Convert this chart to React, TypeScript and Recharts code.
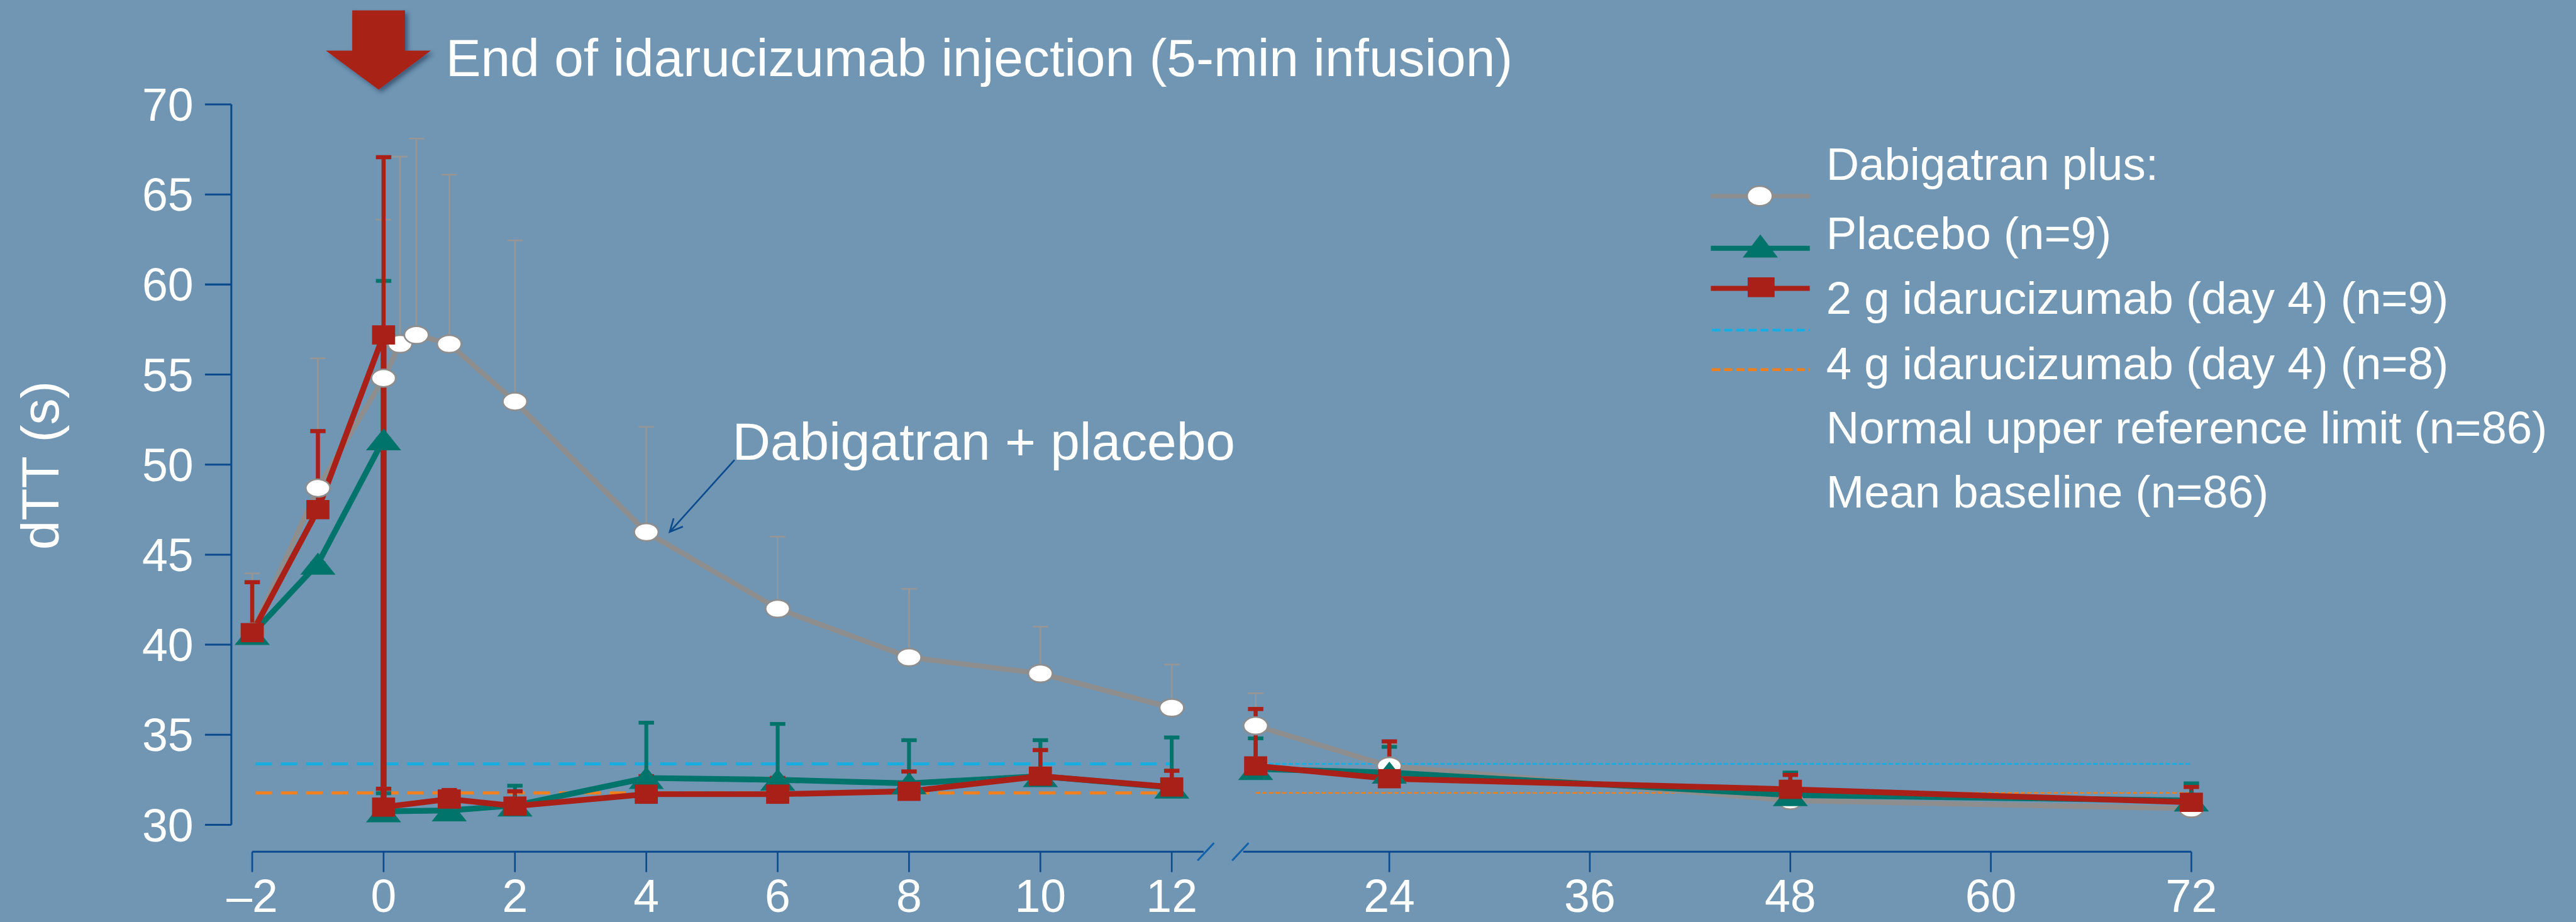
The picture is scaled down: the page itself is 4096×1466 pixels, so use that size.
import React from 'react';
import {
  ComposedChart, Line, XAxis, YAxis, ErrorBar, ReferenceLine, ReferenceDot, Legend,
} from 'recharts';

const W = 4096;
const H = 1466;
const S = W / 4688; // reference pixels -> window pixels
const px = (v: number) => v * S;

const FONT = '"Liberation Sans", Arial, Helvetica, sans-serif';
const BG = '#7096b4';
const AXIS = '#0b4a8c';
const GRAY = '#8e8e8e';
const TEAL = '#00736b';
const RED = '#a92019';
const BLUE_DASH = '#16aee2';
const ORANGE = '#f0801e';

// hours relative to end of the 5-min infusion
const placeboHours = [-2, -1, 0, 0.25, 0.5, 1, 2, 4, 6, 8, 10, 12, 16, 24, 48, 72];
const placeboValues = [40.7, 48.7, 54.8, 56.7, 57.2, 56.7, 53.5, 46.25, 42.0, 39.3, 38.4, 36.5, 35.5, 33.26, 31.35, 30.9];
const placeboUpper = [3.26, 7.2, 8.8, 10.4, 10.9, 9.4, 8.95, 5.85, 4.0, 3.8, 2.6, 2.4, 1.8, 1.2, 0.5, 0.5];

const idaHours = [-2, -1, 0, 0, 1, 2, 4, 6, 8, 10, 12, 16, 24, 48, 72];
const ida2gValues = [40.6, 44.5, 51.4, 30.75, 30.8, 31.07, 32.6, 32.5, 32.3, 32.7, 32.07, 33.1, 32.9, 31.65, 31.35];
const ida2gUpper = [0, 0, 8.8, 1.0, 0.5, 1.1, 3.07, 3.1, 2.4, 2.0, 2.78, 1.7, 1.43, 1.25, 0.95];
const ida4gValues = [40.67, 47.5, 57.2, 30.98, 31.43, 31.04, 31.7, 31.7, 31.86, 32.7, 32.1, 33.27, 32.56, 31.97, 31.25];
const ida4gUpper = [2.8, 4.36, 9.87, 1.02, 0.5, 0.82, 1.0, 0.9, 1.1, 1.45, 0.9, 3.16, 2.07, 0.8, 0.85];

const upperRefLimit = 33.38;
const meanBaseline = 31.77;

const xTickHours = [-2, 0, 2, 4, 6, 8, 10, 12, 24, 36, 48, 60, 72];
const xTickLabels = ['–2', '0', '2', '4', '6', '8', '10', '12', '24', '36', '48', '60', '72'];
const yTicks = [30, 35, 40, 45, 50, 55, 60, 65, 70];

const legendLabels = [
  'Dabigatran plus:',
  'Placebo (n=9)',
  '2 g idarucizumab (day 4) (n=9)',
  '4 g idarucizumab (day 4) (n=8)',
  'Normal upper reference limit (n=86)',
  'Mean baseline (n=86)',
];

/* broken time axis: hours after 12 are compressed 4x */
const BREAK_HOUR = 12;
const POST_BREAK_START = 12.26;
const POST_BREAK_RATIO = 0.2544;
const toAxis = (h: number) =>
  h <= BREAK_HOUR ? h : POST_BREAK_START + (h - BREAK_HOUR) * POST_BREAK_RATIO;

const X_MIN = -2.318;
const X_MAX = toAxis(72);
const Y_MIN = 28.505;
const Y_MAX = 70;
const GAP_LEFT = 12.485;
const GAP_RIGHT = 13.088;

const xTicks = xTickHours.map(toAxis);

const buildSeries = (hours: number[], values: number[], upper: number[]) => {
  const rows: any[] = [];
  hours.forEach((h, i) => {
    const prev = hours[i - 1];
    if (prev !== undefined && prev <= BREAK_HOUR && h > BREAK_HOUR) {
      rows.push({ u: (toAxis(prev) + toAxis(h)) / 2, v: null });
    }
    rows.push({ u: toAxis(h), v: values[i], err: [0, upper[i]] });
  });
  return rows;
};

const flat = (from: number, to: number, v: number) => [
  { u: toAxis(from), v },
  { u: toAxis(to), v },
];

const placeboData = buildSeries(placeboHours, placeboValues, placeboUpper);
const ida2gData = buildSeries(idaHours, ida2gValues, ida2gUpper);
const ida4gData = buildSeries(idaHours, ida4gValues, ida4gUpper);

const GrayDot = (p: any) =>
  p.cy == null ? <g key={`g${p.index}`} /> : (
    <ellipse key={`g${p.index}`} cx={p.cx} cy={p.cy} rx={px(22)} ry={px(16)}
      fill="#fff" stroke={GRAY} strokeWidth={px(3)} />
  );

const TealDot = (p: any) => {
  if (p.cy == null) return <g key={`t${p.index}`} />;
  const w = px(64), h = px(40);
  return (
    <polygon key={`t${p.index}`} fill={TEAL}
      points={`${p.cx},${p.cy - h / 2} ${p.cx - w / 2},${p.cy + h / 2} ${p.cx + w / 2},${p.cy + h / 2}`} />
  );
};

const RedDot = (p: any) => {
  if (p.cy == null) return <g key={`r${p.index}`} />;
  const w = px(42), h = px(35);
  return <rect key={`r${p.index}`} x={p.cx - w / 2} y={p.cy - h / 2} width={w} height={h} fill={RED} />;
};

const InfusionMarker = ({ cx, cy }: any) => (
  <g>
    <defs>
      <filter id="arrowShadow" x="-30%" y="-30%" width="160%" height="160%">
        <feDropShadow dx={px(5)} dy={px(5)} stdDeviation={px(4)} floodColor="#1c3550" floodOpacity="0.6" />
      </filter>
    </defs>
    <polygon
      filter="url(#arrowShadow)"
      fill={RED}
      points={[
        [-57, -171], [39, -171], [39, -98], [86, -98], [-9, -27], [-105, -98], [-57, -98],
      ].map(([dx, dy]) => `${cx + px(dx)},${cy + px(dy)}`).join(' ')}
    />
    <text x={cx + px(113)} y={cy - px(52)} fill="#fff" fontSize={px(96)} fontFamily={FONT}>
      End of idarucizumab injection (5-min infusion)
    </text>
  </g>
);

const CalloutArrow = (p: any) => {
  const { x1, y1, x2, y2 } = p;
  const ang = Math.atan2(y2 - y1, x2 - x1);
  const len = px(26);
  const spread = 0.45;
  const a1 = ang + spread, a2 = ang - spread;
  return (
    <g>
      <line x1={x1} y1={y1} x2={x2} y2={y2} stroke={AXIS} strokeWidth={px(3)} />
      <polyline fill="none" stroke={AXIS} strokeWidth={px(3)}
        points={`${x1 + len * Math.cos(a1)},${y1 + len * Math.sin(a1)} ${x1},${y1} ${x1 + len * Math.cos(a2)},${y1 + len * Math.sin(a2)}`} />
      <text x={x2 - px(4)} y={y2} fill="#fff" fontSize={px(96)} fontFamily={FONT}>Dabigatran + placebo</text>
    </g>
  );
};

const YTitle = () => (
  <text x={px(107)} y={px(847)} transform={`rotate(-90 ${px(107)} ${px(847)})`}
    textAnchor="middle" fill="#fff" fontSize={px(96)} fontFamily={FONT}>
    dTT (s)
  </text>
);

/* legend drawn in reference pixel units, then scaled */
const LEG_X = 3100;
const LEG_Y = 220;
const LEG_W = 1588;
const LEG_H = 760;
const legendBaselines = [328, 454, 571, 690, 807, 924];

const LegendBox = () => (
  <svg width={px(LEG_W)} height={px(LEG_H)} style={{ display: 'block' }}>
    <g transform={`scale(${S}) translate(${-LEG_X} ${-LEG_Y})`}>
      <line x1={3113} x2={3293} y1={357} y2={357} stroke={GRAY} strokeWidth={8} />
      <ellipse cx={3202} cy={357} rx={23} ry={18} fill="#fff" stroke={GRAY} strokeWidth={3} />
      <line x1={3113} x2={3293} y1={452} y2={452} stroke={TEAL} strokeWidth={9} />
      <polygon points="3203,427 3171,469 3235,469" fill={TEAL} />
      <line x1={3113} x2={3293} y1={525} y2={525} stroke={RED} strokeWidth={9} />
      <rect x={3180} y={505} width={49} height={36} fill={RED} />
      <line x1={3115} x2={3293} y1={601} y2={601} stroke={BLUE_DASH} strokeWidth={5} strokeDasharray="15 7" />
      <line x1={3115} x2={3293} y1={673} y2={673} stroke={ORANGE} strokeWidth={5} strokeDasharray="15 7" />
      {legendLabels.map((t, i) => (
        <text key={t} x={3323} y={legendBaselines[i]} fill="#fff" fontSize={83} fontFamily={FONT}>{t}</text>
      ))}
    </g>
  </svg>
);

const axisRef = { stroke: AXIS, strokeWidth: px(3.5), ifOverflow: 'visible' as const };

export default function App() {
  return (
    <div style={{ width: W, height: H, background: BG, position: 'relative', overflow: 'hidden' }}>
      <style>{`html,body{margin:0;padding:0;background:${BG};}`}</style>
      <ComposedChart
        width={W}
        height={H}
        margin={{ top: px(190), right: W - px(3988), bottom: H - px(1550) - 100, left: px(421) - 300 }}
      >
        <XAxis
          type="number"
          dataKey="u"
          domain={[X_MIN, X_MAX]}
          ticks={xTicks}
          interval={0}
          height={100}
          stroke={AXIS}
          axisLine={false}
          tickLine={{ stroke: AXIS, strokeWidth: px(3) }}
          tickSize={px(37)}
          tickMargin={px(13)}
          tick={{ fill: '#fff', fontSize: px(84), fontFamily: FONT }}
          tickFormatter={(u: number) => xTickLabels[xTicks.findIndex((t) => Math.abs(t - u) < 1e-6)] ?? ''}
        />
        <YAxis
          type="number"
          domain={[Y_MIN, Y_MAX]}
          ticks={yTicks}
          interval={0}
          width={300}
          stroke={AXIS}
          axisLine={false}
          tickLine={{ stroke: AXIS, strokeWidth: px(3.5) }}
          tickSize={px(48)}
          tickMargin={px(21)}
          tick={{ fill: '#fff', fontSize: px(84), fontFamily: FONT }}
          label={<YTitle />}
        />

        {/* detached axis lines with the break */}
        <ReferenceLine {...axisRef} segment={[{ x: X_MIN, y: 30 }, { x: X_MIN, y: Y_MAX }]} />
        <ReferenceLine {...axisRef} segment={[{ x: toAxis(-2), y: Y_MIN }, { x: GAP_LEFT, y: Y_MIN }]} />
        <ReferenceLine {...axisRef} segment={[{ x: GAP_RIGHT, y: Y_MIN }, { x: X_MAX, y: Y_MIN }]} />
        <ReferenceLine {...axisRef} stroke="#1262aa" segment={[{ x: 12.393, y: 28.017 }, { x: 12.644, y: 28.993 }]} />
        <ReferenceLine {...axisRef} stroke="#1262aa" segment={[{ x: 12.92, y: 28.017 }, { x: 13.171, y: 28.993 }]} />

        {/* reference limits */}
        <Line data={flat(-1.95, 12, upperRefLimit)} dataKey="v" stroke={BLUE_DASH} strokeWidth={px(5.5)}
          strokeDasharray={`${px(30)} ${px(16)}`} dot={false} activeDot={false} isAnimationActive={false} legendType="none" />
        <Line data={flat(16, 72, upperRefLimit)} dataKey="v" stroke={BLUE_DASH} strokeWidth={px(3)}
          strokeDasharray={`${px(8)} ${px(4)}`} dot={false} activeDot={false} isAnimationActive={false} legendType="none" />
        <Line data={flat(-1.95, 12, meanBaseline)} dataKey="v" stroke={ORANGE} strokeWidth={px(5.5)}
          strokeDasharray={`${px(30)} ${px(16)}`} dot={false} activeDot={false} isAnimationActive={false} legendType="none" />
        <Line data={flat(16, 72, meanBaseline)} dataKey="v" stroke={ORANGE} strokeWidth={px(3)}
          strokeDasharray={`${px(8)} ${px(4)}`} dot={false} activeDot={false} isAnimationActive={false} legendType="none" />

        <Line data={placeboData} dataKey="v" name="Placebo (n=9)" stroke={GRAY} strokeWidth={px(9.5)}
          dot={GrayDot} activeDot={false} isAnimationActive={false} connectNulls={false} legendType="none">
          <ErrorBar dataKey="err" direction="y" width={px(14)} stroke="#969696" strokeWidth={px(3.2)} isAnimationActive={false} />
        </Line>
        <Line data={ida2gData} dataKey="v" name="2 g idarucizumab" stroke={TEAL} strokeWidth={px(10.5)}
          dot={TealDot} activeDot={false} isAnimationActive={false} connectNulls={false} legendType="none">
          <ErrorBar dataKey="err" direction="y" width={px(14)} stroke={TEAL} strokeWidth={px(7)} isAnimationActive={false} />
        </Line>
        <Line data={ida4gData} dataKey="v" name="4 g idarucizumab" stroke={RED} strokeWidth={px(10.5)}
          dot={RedDot} activeDot={false} isAnimationActive={false} connectNulls={false} legendType="none">
          <ErrorBar dataKey="err" direction="y" width={px(14)} stroke={RED} strokeWidth={px(7.5)} isAnimationActive={false} />
        </Line>

        <ReferenceLine
          ifOverflow="visible"
          segment={[{ x: toAxis(4.356), y: 46.26 }, { x: toAxis(5.343), y: 50.26 }]}
          shape={CalloutArrow}
        />
        <ReferenceDot x={0} y={Y_MAX} r={0} ifOverflow="visible" shape={(p: any) => <InfusionMarker cx={p.cx} cy={p.cy} />} />

        <Legend
          layout="horizontal"
          verticalAlign="middle"
          align="center"
          content={() => <LegendBox />}
          wrapperStyle={{ left: px(LEG_X), top: px(LEG_Y), width: px(LEG_W), height: px(LEG_H) }}
        />
      </ComposedChart>
    </div>
  );
}
